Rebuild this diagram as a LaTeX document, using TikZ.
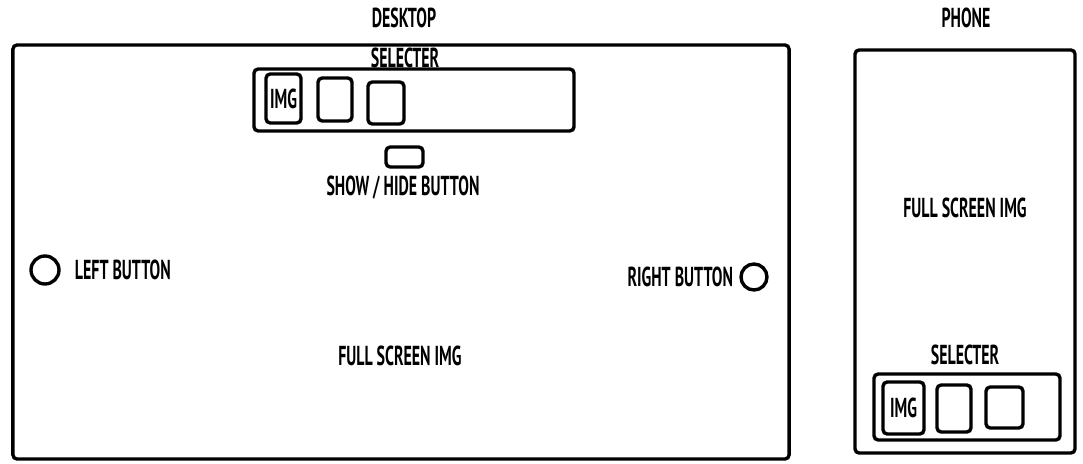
\documentclass[tikz,border=0pt]{standalone}
\usepackage{fontspec}
\setmainfont{PT Sans}[FakeStretch=0.58]
\usepackage{tikz}
\usetikzlibrary{positioning}

\begin{document}
\begin{tikzpicture}[
    x=0.025cm, y=-0.025cm,
    frame/.style={
      rectangle,
      draw=black,
      line width=2.4pt,
      rounded corners=3pt,
      inner sep=0pt,
      font=\fontsize{19.5}{21}\selectfont\bfseries,
      align=center
    },
    thumb/.style={
      frame,
      minimum width=0.9cm,
      minimum height=1.2cm
    },
    btn/.style={
      circle,
      draw=black,
      line width=2.4pt,
      inner sep=0pt,
      minimum size=0.7cm
    },
    caption/.style={
      font=\fontsize{19.5}{21}\selectfont\bfseries,
      text=black,
      inner sep=0pt
    }
  ]
    \useasboundingbox (0,0) rectangle (1083,464);

    % ---- Desktop frame ----
    \node[frame, minimum width=19.4cm, minimum height=10.35cm] (desktop) at (401, 252) {};
    \node[caption] (desktoplbl) at (404, 18) {DESKTOP};

    % ---- Desktop selecter ----
    \node[frame, minimum width=8cm, minimum height=1.55cm] (dsel) at (414, 100) {};
    \node[caption] (dsellbl) at (405, 58) {SELECTER};
    \node[thumb, minimum width=0.875cm, minimum height=1.225cm] (dimg) at (283.5, 98.5) {IMG};
    \node[thumb, minimum width=0.85cm, minimum height=1.075cm] (dthumbb) at (335, 99.5) {};
    \node[thumb, minimum width=0.9cm, minimum height=1.05cm] (dthumbc) at (386, 103) {};

    % ---- Show / hide ----
    \node[frame, minimum width=0.925cm, minimum height=0.5cm] (toggle) at (404.5, 157) {};
    \node[caption] (togglelbl) at (403, 188) {SHOW / HIDE BUTTON};

    % ---- Left / right buttons ----
    \node[btn] (leftbtn) at (45, 270) {};
    \node[caption, right=0.35cm of leftbtn] (leftlbl) {LEFT BUTTON};
    \node[btn, minimum size=0.65cm] (rightbtn) at (754, 277) {};
    \node[caption, left=0.15cm of rightbtn] (rightlbl) {RIGHT BUTTON};

    \node[caption] (dfull) at (400, 356) {FULL SCREEN IMG};

    % ---- Phone frame ----
    \node[frame, minimum width=5.5cm, minimum height=10.075cm] (phone) at (965, 251.5) {};
    \node[caption] (phonelbl) at (966, 18) {PHONE};
    \node[caption] (pfull) at (965, 208) {FULL SCREEN IMG};

    % ---- Phone selecter ----
    \node[caption] (psellbl) at (965, 355) {SELECTER};
    \node[frame, minimum width=4.65cm, minimum height=1.65cm] (psel) at (967, 407) {};
    \node[thumb, minimum width=1.025cm, minimum height=1.3cm] (pimg) at (903.5, 408) {IMG};
    \node[thumb, minimum width=0.85cm, minimum height=1.175cm] (pthumbb) at (954, 408.5) {};
    \node[thumb, minimum width=0.925cm, minimum height=1.025cm] (pthumbc) at (1004.5, 407.5) {};
  \end{tikzpicture}
\end{document}
